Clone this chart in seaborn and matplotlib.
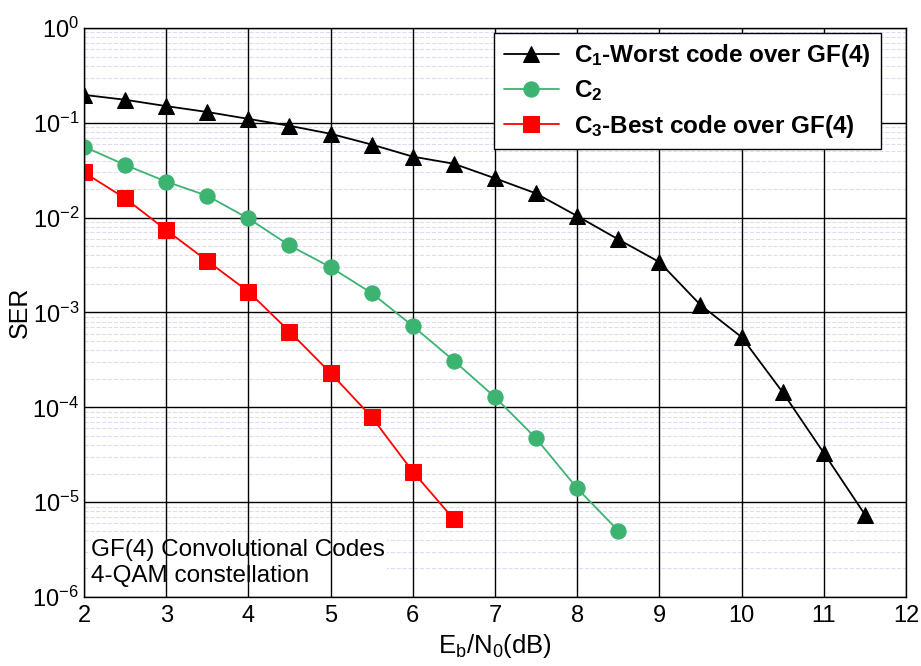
import matplotlib
matplotlib.use("Agg")
import matplotlib.pyplot as plt
import seaborn as sns
from matplotlib.ticker import LogLocator, MultipleLocator, NullFormatter

# SER curves
ebn0_c1 = [2, 2.5, 3, 3.5, 4, 4.5, 5, 5.5, 6, 6.5, 7, 7.5, 8, 8.5, 9, 9.5, 10, 10.5, 11, 11.5]
ser_c1 = [0.197, 0.175, 0.15, 0.13, 0.11, 0.093, 0.0766, 0.059, 0.044, 0.037, 0.026, 0.018,
          0.0104, 0.0059, 0.0034, 0.0012, 0.00055, 0.000144, 3.3e-5, 7.4e-6]
ebn0_c2 = [2, 2.5, 3, 3.5, 4, 4.5, 5, 5.5, 6, 6.5, 7, 7.5, 8, 8.5]
ser_c2 = [0.056, 0.036, 0.024, 0.017, 0.0098, 0.0051, 0.0030, 0.0016, 0.00072, 0.00031,
          0.000128, 4.7e-5, 1.4e-5, 5e-6]
ebn0_c3 = [2, 2.5, 3, 3.5, 4, 4.5, 5, 5.5, 6, 6.5]
ser_c3 = [0.030, 0.016, 0.0074, 0.0035, 0.00166, 0.00063, 0.00023, 7.9e-5, 2.1e-5, 6.6e-6]

labels = [r"$\mathbf{C_1}$-Worst code over GF(4)", r"$\mathbf{C_2}$", r"$\mathbf{C_3}$-Best code over GF(4)"]

sns.set_style("white")
plt.rcParams["font.family"] = ["Liberation Sans", "DejaVu Sans"]
plt.rcParams["mathtext.fontset"] = "custom"
plt.rcParams["mathtext.rm"] = "Liberation Sans"
plt.rcParams["mathtext.it"] = "Liberation Sans"
plt.rcParams["mathtext.bf"] = "Liberation Sans:bold"
plt.rcParams["axes.unicode_minus"] = False
for k in ["text.color", "axes.labelcolor", "xtick.color", "ytick.color"]:
    plt.rcParams[k] = "black"

fig, ax = plt.subplots(figsize=(9.21, 6.66), dpi=100)
fig.subplots_adjust(left=0.0912, right=0.9837, bottom=0.1036, top=0.958)

sns.lineplot(x=ebn0_c1, y=ser_c1, ax=ax, color="black", marker="^", markersize=11,
             markeredgecolor="black", linewidth=1.3, label=labels[0])
sns.lineplot(x=ebn0_c2, y=ser_c2, ax=ax, color="#3cb371", marker="o", markersize=11,
             markeredgecolor="#3cb371", linewidth=1.3, label=labels[1])
sns.lineplot(x=ebn0_c3, y=ser_c3, ax=ax, color="red", marker="s", markersize=11,
             markeredgecolor="red", linewidth=1.3, label=labels[2])

ax.set_yscale("log")
ax.set_xlim(2, 12)
ax.set_ylim(1e-6, 1)
ax.xaxis.set_major_locator(MultipleLocator(1))
ax.xaxis.set_minor_locator(MultipleLocator(0.5))
ax.yaxis.set_major_locator(LogLocator(base=10, numticks=10))
ax.yaxis.set_minor_locator(LogLocator(base=10, subs=range(2, 10), numticks=20))
ax.yaxis.set_minor_formatter(NullFormatter())

ax.grid(True, which="major", color="black", linewidth=1.0, linestyle="-")
ax.grid(True, which="minor", axis="y", color="#dcdcf4", linewidth=0.8, linestyle="--")
ax.set_axisbelow(True)
# vertical grid above the note box, horizontal (dashed) grid below it
ax.xaxis.set_zorder(0.8)
ax.yaxis.set_zorder(0.5)

for s in ax.spines.values():
    s.set_color("black")
    s.set_linewidth(1.0)
ax.tick_params(which="both", direction="in", top=False, right=False)
ax.tick_params(which="major", length=5, labelsize=17)
ax.tick_params(which="minor", length=3)
ax.tick_params(axis="x", pad=6)

ax.set_xlabel(r"E$_\mathregular{b}$/N$_\mathregular{0}$(dB)", fontsize=18.5, labelpad=3)
ax.set_ylabel("SER", fontsize=18, labelpad=0)

ax.text(0.008, 0.018, "GF(4) Convolutional Codes\n4-QAM constellation", transform=ax.transAxes,
        fontsize=17.5, va="bottom", ha="left", linespacing=1.2, zorder=0.7,
        bbox=dict(facecolor="white", edgecolor="none", pad=2))

leg = ax.legend(loc="upper right", bbox_to_anchor=(0.969, 0.992), borderaxespad=0,
                fontsize=17.5, frameon=True, fancybox=False, framealpha=1, edgecolor="black",
                handlelength=2.3, borderpad=0.4, labelspacing=0.38, handletextpad=0.6)
leg.get_frame().set_linewidth(1.0)
for t in leg.get_texts():
    t.set_fontweight("bold")

fig.savefig("out.png", dpi=100)
